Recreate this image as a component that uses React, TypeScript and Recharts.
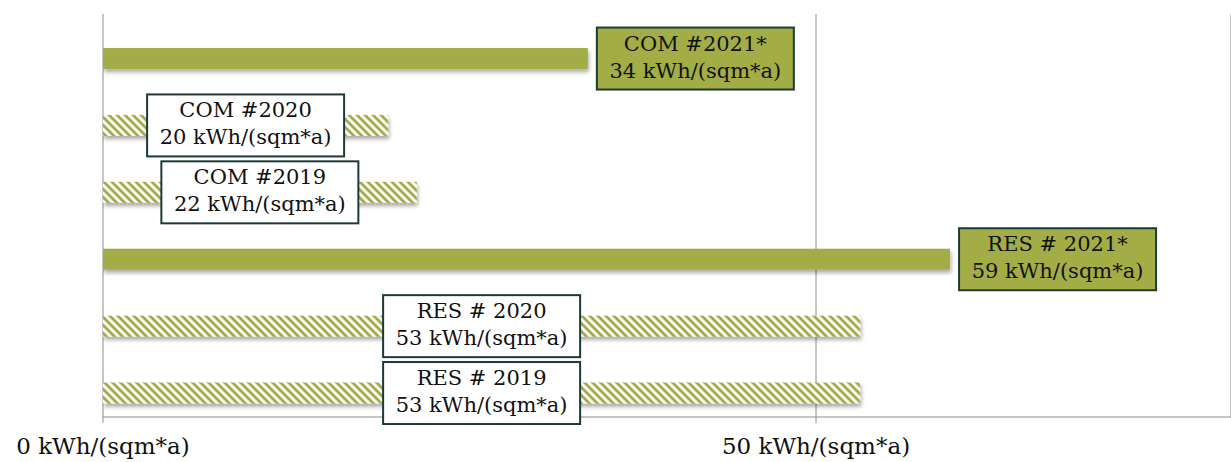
import React from "react";
import { BarChart, Bar, XAxis, YAxis, CartesianGrid, Cell, LabelList } from "recharts";

const categories = ["COM #2021*", "COM #2020", "COM #2019", "RES # 2021*", "RES # 2020", "RES # 2019"];
const values = [34, 20, 22, 59.4, 53.1, 53.1];
const isCurrent = [true, false, false, true, false, false];
const xTicks = [0, 50];
const unit = "kWh/(sqm*a)";

const data = categories.map((name, i) => ({ idx: i, name, value: values[i], current: isCurrent[i] }));

const OLIVE = "#A3AD46";
const BORDER = "#1D3A3A";
const FONT = "'DejaVu Serif', serif";

const BarShape = (props: any) => {
  const { x, y, width, height, fill } = props;
  return <rect x={x} y={y} width={width} height={height} fill={fill} filter="url(#barShadow)" />;
};

const BoxLabel = (props: any) => {
  const { x, y, width, height, index } = props;
  const d = data[index];
  const bw = 197;
  const bh = 62;
  const cy = y + height / 2;
  const left = d.current ? x + width + 9 : x + width / 2 - bw / 2;
  const cx = left + bw / 2;
  return (
    <g>
      <rect x={left} y={cy - bh / 2} width={bw} height={bh} fill={d.current ? OLIVE : "#ffffff"} stroke={BORDER} strokeWidth={2} />
      <text x={cx} y={cy - 8} textAnchor="middle" fontFamily={FONT} fontSize={21} fill="#111">
        {d.name}
      </text>
      <text x={cx} y={cy + 19} textAnchor="middle" fontFamily={FONT} fontSize={21} fill="#111">
        {`${Math.round(d.value)} ${unit}`}
      </text>
    </g>
  );
};

const Tick = (props: any) => {
  const { x, y, payload } = props;
  return (
    <text x={x} y={y + 29} textAnchor="middle" fontFamily={FONT} fontSize={23} fill="#111">
      {`${payload.value} ${unit}`}
    </text>
  );
};

export default function App() {
  return (
    <div style={{ position: "absolute", left: 0, top: 0, background: "#fff" }}>
      <BarChart
        width={1231}
        height={462}
        data={data}
        layout="vertical"
        margin={{ top: 14, right: 0, bottom: 0, left: 103 }}
      >
        <defs>
          <pattern id="hatch" patternUnits="userSpaceOnUse" width="8" height="8">
            <rect x="0" y="0" width="8" height="8" fill="#ffffff" />
            <polygon points="0,0 4,0 8,4 8,8" fill={OLIVE} />
            <polygon points="0,4 4,8 0,8" fill={OLIVE} />
          </pattern>
          <filter id="barShadow" x="-5%" y="-50%" width="110%" height="220%">
            <feDropShadow dx="1" dy="3" stdDeviation="2" floodColor="#000" floodOpacity="0.35" />
          </filter>
        </defs>
        <CartesianGrid horizontal={false} stroke="#8c8c8c" />
        <XAxis
          type="number"
          domain={[0, 79.1]}
          ticks={xTicks}
          allowDataOverflow
          height={45}
          tickSize={6}
          stroke="#8c8c8c"
          tick={<Tick />}
          interval={0}
        />
        <YAxis type="number" dataKey="idx" domain={[-0.665, 5.359]} hide allowDataOverflow />
        <Bar dataKey="value" barSize={21} isAnimationActive={false} shape={<BarShape />}>
          {data.map((d, i) => (
            <Cell key={i} fill={d.current ? OLIVE : "url(#hatch)"} />
          ))}
          <LabelList dataKey="value" content={<BoxLabel />} />
        </Bar>
      </BarChart>
    </div>
  );
}
